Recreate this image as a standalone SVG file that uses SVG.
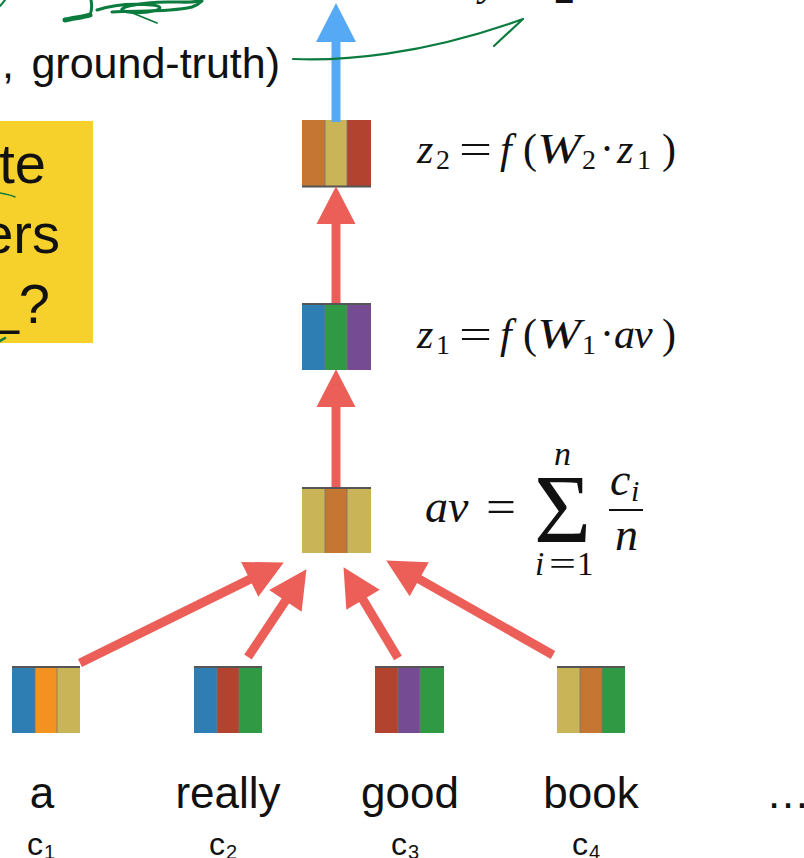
<svg xmlns="http://www.w3.org/2000/svg" width="804" height="858" viewBox="0 0 804 858">
  <style>
    .sans { font-family: "Liberation Sans", Arial, Helvetica, sans-serif; fill: #111; }
    .word { font-size: 44px; text-anchor: middle; }
    .cl { font-size: 32px; }
    .cs { font-size: 20px; }
    .m { font-family: "Liberation Serif", "Times New Roman", serif; fill: #111; font-size: 42px; }
    .mi { font-style: italic; }
    .sub { font-size: 28px; }
    .red { stroke: #EC5F58; stroke-width: 9; fill: none; }
    .blue { stroke: #56A9F5; stroke-width: 9; fill: none; }
    .pen { stroke: #0B7B3E; fill: none; stroke-linecap: round; stroke-linejoin: round; }
    .top { stroke: #555; stroke-width: 2; }
    .sep { stroke: #777; stroke-width: 0.8; }
  </style>
  <defs>
    <marker id="hr" markerUnits="userSpaceOnUse" markerWidth="40" markerHeight="40" viewBox="0 -19 37 38" refX="1" refY="0" orient="auto">
      <path d="M0,-18.5 L36,0 L0,18.5 Z" fill="#EC5F58"/>
    </marker>
    <marker id="hb" markerUnits="userSpaceOnUse" markerWidth="40" markerHeight="40" viewBox="0 -19 37 38" refX="1" refY="0" orient="auto">
      <path d="M0,-19 L37,0 L0,19 Z" fill="#56A9F5"/>
    </marker>
  </defs>

  <rect width="804" height="858" fill="#fff"/>

  <!-- partially visible top text -->
  <g id="top-text">
    <text class="m mi" x="480" y="-5" font-size="40">y</text>
    <text class="m" x="554" y="3" font-size="26">2</text>
  </g>

  <g id="loss-label">
    <text class="sans" x="2" y="78" font-size="43">,</text>
    <text class="sans" x="280" y="78" font-size="43" text-anchor="end">ground-truth)</text>
  </g>

  <g id="question-box">
    <rect x="0" y="121" width="93" height="222" fill="#F6D12B"/>
    <text class="sans" x="46" y="183" font-size="56" text-anchor="end">te</text>
    <text class="sans" x="60" y="253" font-size="56" text-anchor="end">ers</text>
    <text class="sans" x="50" y="323" font-size="56" text-anchor="end">_?</text>
  </g>

  <!-- hidden layer z2 -->
  <g id="z2">
    <rect x="302" y="120" width="23" height="67" fill="#C47632"/>
    <rect x="325" y="120" width="22" height="67" fill="#C9B458"/>
    <rect x="347" y="120" width="24" height="67" fill="#B2432F"/>
    <line class="sep" x1="325" y1="120" x2="325" y2="187"/>
    <line class="sep" x1="347" y1="120" x2="347" y2="187"/>
    <line class="top" x1="302" y1="186.5" x2="371" y2="186.5"/>
    <g class="m">
      <text class="mi" x="417" y="163">z</text>
      <text class="sub" x="436" y="169">2</text>
      <text x="459" y="163" textLength="33" lengthAdjust="spacingAndGlyphs">=</text>
      <text class="mi" x="500" y="163">f</text>
      <text x="523" y="163">(</text>
      <text class="mi" x="537" y="163" textLength="44" lengthAdjust="spacingAndGlyphs">W</text>
      <text class="sub" x="582" y="169">2</text>
      <text x="600" y="163">·</text>
      <text class="mi" x="617" y="163">z</text>
      <text class="sub" x="637" y="169">1</text>
      <text x="662" y="163">)</text>
    </g>
  </g>

  <!-- hidden layer z1 -->
  <g id="z1">
    <rect x="302" y="303" width="23" height="67" fill="#2F7EB3"/>
    <rect x="325" y="303" width="22" height="67" fill="#2F9A43"/>
    <rect x="347" y="303" width="24" height="67" fill="#754B93"/>
    <line class="sep" x1="325" y1="303" x2="325" y2="370"/>
    <line class="sep" x1="347" y1="303" x2="347" y2="370"/>
    <line class="top" x1="302" y1="304" x2="371" y2="304"/>
    <g class="m">
      <text class="mi" x="417" y="348">z</text>
      <text class="sub" x="436" y="354">1</text>
      <text x="459" y="348" textLength="33" lengthAdjust="spacingAndGlyphs">=</text>
      <text class="mi" x="500" y="348">f</text>
      <text x="523" y="348">(</text>
      <text class="mi" x="537" y="348" textLength="44" lengthAdjust="spacingAndGlyphs">W</text>
      <text class="sub" x="582" y="354">1</text>
      <text x="600" y="348">·</text>
      <text class="mi" x="614" y="348">a</text>
      <text class="mi" x="634" y="348">v</text>
      <text x="662" y="348">)</text>
    </g>
  </g>

  <!-- average -->
  <g id="av">
    <rect x="302" y="487" width="23" height="66" fill="#C9B458"/>
    <rect x="325" y="487" width="22" height="66" fill="#C47632"/>
    <rect x="347" y="487" width="24" height="66" fill="#C9B458"/>
    <line class="sep" x1="325" y1="487" x2="325" y2="553"/>
    <line class="sep" x1="347" y1="487" x2="347" y2="553"/>
    <line class="top" x1="302" y1="488" x2="371" y2="488"/>
    <g class="m">
      <text class="mi" x="425" y="522" font-size="46">a</text>
      <text class="mi" x="448" y="522" font-size="46">v</text>
      <text x="486" y="522" font-size="46" textLength="30" lengthAdjust="spacingAndGlyphs">=</text>
      <text x="534" y="542" font-size="98">Σ</text>
      <text class="mi" x="554" y="465" font-size="34">n</text>
      <text class="mi" x="535" y="575" font-size="33">i</text>
      <text x="549" y="575" font-size="33" textLength="27" lengthAdjust="spacingAndGlyphs">=</text>
      <text x="577" y="575" font-size="33">1</text>
      <text class="mi" x="610" y="495" font-size="46">c</text>
      <text class="mi" x="631" y="501" font-size="30">i</text>
      <line x1="609" y1="510" x2="643" y2="510" stroke="#111" stroke-width="1.8"/>
      <text class="mi" x="615" y="550" font-size="46">n</text>
    </g>
  </g>

  <!-- word vectors -->
  <g id="c1">
    <rect x="12" y="666" width="23" height="67" fill="#2F7EB3"/>
    <rect x="35" y="666" width="22" height="67" fill="#F39220"/>
    <rect x="57" y="666" width="23" height="67" fill="#C9B458"/>
    <line class="sep" x1="35" y1="666" x2="35" y2="733"/>
    <line class="sep" x1="57" y1="666" x2="57" y2="733"/>
    <line class="top" x1="12" y1="667" x2="80" y2="667"/>
    <text class="sans word" x="42" y="808">a</text>
    <text class="sans cl" x="27" y="855">c</text>
    <text class="sans cs" x="44" y="859">1</text>
  </g>
  <g id="c2">
    <rect x="194" y="666" width="23" height="67" fill="#2F7EB3"/>
    <rect x="217" y="666" width="22" height="67" fill="#B2432F"/>
    <rect x="239" y="666" width="23" height="67" fill="#2F9A43"/>
    <line class="sep" x1="217" y1="666" x2="217" y2="733"/>
    <line class="sep" x1="239" y1="666" x2="239" y2="733"/>
    <line class="top" x1="194" y1="667" x2="262" y2="667"/>
    <text class="sans word" x="228" y="808">really</text>
    <text class="sans cl" x="209" y="855">c</text>
    <text class="sans cs" x="226" y="859">2</text>
  </g>
  <g id="c3">
    <rect x="375" y="666" width="23" height="67" fill="#B2432F"/>
    <rect x="398" y="666" width="22" height="67" fill="#754B93"/>
    <rect x="420" y="666" width="24" height="67" fill="#2F9A43"/>
    <line class="sep" x1="398" y1="666" x2="398" y2="733"/>
    <line class="sep" x1="420" y1="666" x2="420" y2="733"/>
    <line class="top" x1="375" y1="667" x2="444" y2="667"/>
    <text class="sans word" x="410" y="808">good</text>
    <text class="sans cl" x="391" y="855">c</text>
    <text class="sans cs" x="408" y="859">3</text>
  </g>
  <g id="c4">
    <rect x="557" y="666" width="23" height="67" fill="#C9B458"/>
    <rect x="580" y="666" width="22" height="67" fill="#C47632"/>
    <rect x="602" y="666" width="23" height="67" fill="#2F9A43"/>
    <line class="sep" x1="580" y1="666" x2="580" y2="733"/>
    <line class="sep" x1="602" y1="666" x2="602" y2="733"/>
    <line class="top" x1="557" y1="667" x2="625" y2="667"/>
    <text class="sans word" x="591" y="808">book</text>
    <text class="sans cl" x="572" y="855">c</text>
    <text class="sans cs" x="589" y="859">4</text>
  </g>
  <g id="ellipsis">
    <text class="sans" x="766" y="808" font-size="44">…</text>
  </g>

  <!-- connectors -->
  <g id="connectors">
    <line class="blue" x1="336" y1="122" x2="336" y2="41" marker-end="url(#hb)"/>
    <line class="red" x1="336" y1="303" x2="336" y2="223" marker-end="url(#hr)"/>
    <line class="red" x1="336" y1="487" x2="336" y2="406" marker-end="url(#hr)"/>
    <line class="red" x1="80" y1="663" x2="250.7" y2="578.9" marker-end="url(#hr)"/>
    <line class="red" x1="248" y1="657" x2="286" y2="600" marker-end="url(#hr)"/>
    <line class="red" x1="398" y1="658" x2="362.5" y2="598.9" marker-end="url(#hr)"/>
    <line class="red" x1="553" y1="655" x2="418.3" y2="578.7" marker-end="url(#hr)"/>
  </g>

  <!-- pen annotations -->
  <g id="annotations">
    <path class="pen" stroke-width="5" d="M65,20 C74,18 84,17 90,15"/>
    <path class="pen" stroke-width="3" d="M90,15 C92,10 92,5 91,0"/>
    <path class="pen" stroke-width="3" d="M97,10 C112,5 132,3 152,5 C172,7 150,15 128,12 C108,9 140,2 168,2 C186,2 196,3 201,0"/>
    <path class="pen" stroke-width="3" d="M112,12 C135,10 165,13 192,7 C198,5 200,3 202,1"/>
    <path class="pen" stroke-width="1.8" d="M130,12 L157,23"/>
    <path class="pen" stroke-width="2" d="M0,6 L5,0"/>
    <path class="pen" stroke-width="2.2" d="M293,59 C340,61 420,56 523,19 L494,46"/>
    <path class="pen" stroke-width="1.4" d="M0,193 C6,194 11,195 15,197"/>
    <path class="pen" stroke-width="2.5" d="M0,341 L5,338"/>
  </g>
</svg>
